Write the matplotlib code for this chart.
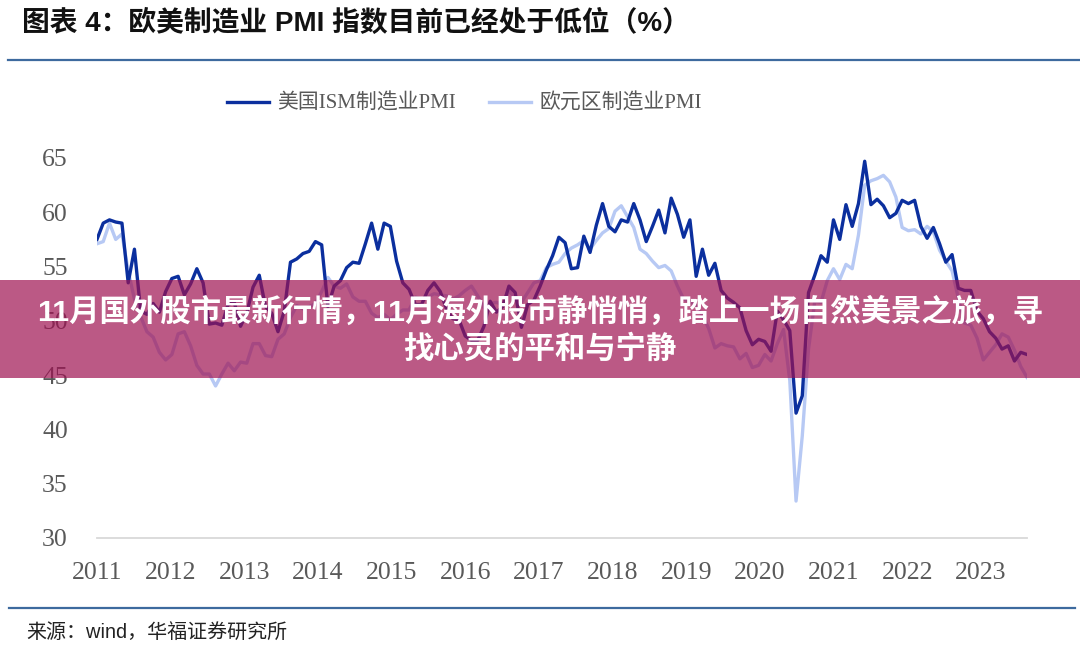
import numpy as np
import matplotlib
matplotlib.use("Agg")
import matplotlib.pyplot as plt
from matplotlib.lines import Line2D
from matplotlib.patches import Rectangle

# monthly data, Dec 2010 .. May 2023
ism_pmi = [57.5,
    59.0, 59.3, 59.1, 59.0, 53.5, 56.6, 50.9, 50.6, 51.6, 50.8, 52.7, 53.9,
    54.1, 52.4, 53.4, 54.8, 53.5, 49.7, 49.8, 49.6, 51.5, 51.7, 49.5, 50.7,
    53.1, 54.2, 51.3, 50.7, 49.0, 50.9, 55.4, 55.7, 56.2, 56.4, 57.3, 57.0,
    51.3, 53.2, 53.7, 54.9, 55.4, 55.3, 57.1, 59.0, 56.6, 59.0, 58.7, 55.5,
    53.5, 52.9, 51.5, 51.5, 52.8, 53.5, 52.7, 51.1, 50.2, 50.1, 48.6, 48.2,
    48.2, 49.5, 51.8, 50.8, 51.3, 53.2, 52.6, 49.4, 51.5, 51.9, 53.2, 54.7,
    56.0, 57.7, 57.2, 54.8, 54.9, 57.8, 56.3, 58.8, 60.8, 58.7, 58.2, 59.3,
    59.1, 60.8, 59.3, 57.3, 58.7, 60.2, 58.1, 61.3, 59.8, 57.7, 59.3, 54.1,
    56.6, 54.2, 55.3, 52.8, 52.1, 51.7, 51.2, 49.1, 47.8, 48.3, 48.1, 47.2,
    50.9, 50.1, 49.1, 41.5, 43.1, 52.6, 54.2, 56.0, 55.4, 59.3, 57.5, 60.7,
    58.7, 60.8, 64.7, 60.7, 61.2, 60.6, 59.5, 59.9, 61.1, 60.8, 61.1, 58.7,
    57.6, 58.6, 57.1, 55.4, 56.1, 53.0, 52.8, 52.8, 50.9, 50.2, 49.0, 48.4,
    47.4, 47.7, 46.3, 47.1, 46.9]

euro_pmi = [57.1,
    57.3, 59.0, 57.5, 58.0, 54.6, 52.0, 50.4, 49.0, 48.5, 47.1, 46.4, 46.9,
    48.8, 49.0, 47.7, 45.9, 45.1, 45.1, 44.0, 45.1, 46.1, 45.4, 46.2, 46.1,
    47.9, 47.9, 46.8, 46.7, 48.3, 48.8, 50.3, 51.4, 51.1, 51.3, 51.6, 52.7,
    54.0, 53.2, 53.0, 53.4, 52.2, 51.8, 51.8, 50.7, 50.3, 50.6, 50.1, 50.6,
    51.0, 51.0, 52.2, 52.0, 52.2, 52.5, 52.4, 52.3, 52.0, 52.3, 52.8, 53.2,
    52.3, 51.2, 51.6, 51.7, 51.5, 52.8, 52.0, 51.7, 52.6, 53.5, 53.7, 54.9,
    55.2, 55.4, 56.2, 56.7, 57.0, 57.4, 56.6, 57.4, 58.1, 58.5, 60.1, 60.6,
    59.6, 58.6, 56.6, 56.2, 55.5, 54.9, 55.1, 54.6, 53.2, 52.0, 51.8, 51.4,
    50.5, 49.3, 47.5, 47.9, 47.7, 47.6, 46.5, 47.0, 45.7, 45.9, 46.9, 46.3,
    47.9, 49.2, 44.5, 33.4, 39.4, 47.4, 51.8, 51.7, 53.7, 54.8, 53.8, 55.2,
    54.8, 57.9, 62.5, 62.9, 63.1, 63.4, 62.8, 61.4, 58.6, 58.3, 58.4, 58.0,
    58.7, 58.2, 56.5, 55.5, 54.6, 52.1, 49.8, 49.6, 48.4, 46.4, 47.1, 47.8,
    48.8, 48.5, 47.3, 45.8, 44.8]

years = [str(y) for y in range(2011, 2024)]
labels = ["美国ISM制造业PMI", "欧元区制造业PMI"]

serif = ["Liberation Serif", "Noto Sans CJK SC"]
sans = ["Liberation Sans", "Noto Sans CJK SC"]

fig = plt.figure(figsize=(10.8, 6.58), dpi=100)
ax = fig.add_axes([0.0898, 0.1824, 0.8611, 0.5775])

x = np.arange(len(ism_pmi))
ax.plot(x, euro_pmi, color="#b7c9f4", lw=2.4, solid_joinstyle="round", zorder=2)
ax.plot(x, ism_pmi, color="#0b2f9e", lw=2.4, solid_joinstyle="round", zorder=3)

ax.set_xlim(0, len(ism_pmi) - 1)
ax.set_ylim(30, 65)
ax.set_yticks(range(30, 66, 5))
ax.set_xticks(np.arange(len(years)) * 11.8)
ax.set_xticklabels(years)
for s in ["top", "right", "left"]:
    ax.spines[s].set_visible(False)
ax.spines["bottom"].set_color("#d9d9d9")
ax.spines["bottom"].set_linewidth(1.3)
ax.tick_params(axis="both", length=0, labelsize=18.5, labelcolor="#595959")
ax.tick_params(axis="y", pad=21)
ax.tick_params(axis="x", pad=17)
for t in ax.get_xticklabels() + ax.get_yticklabels():
    t.set_family(serif)

# legend
handles = [Line2D([], [], color="#0b2f9e", lw=2.4),
           Line2D([], [], color="#b7c9f4", lw=2.4)]
fig.legend(handles, labels, loc="center", bbox_to_anchor=(0.43, 1 - 104 / 658),
           ncol=2, frameon=False, handlelength=2.0, handletextpad=0.4,
           columnspacing=1.6, prop={"family": serif, "size": 15},
           labelcolor="#595959")

# title and rules
fig.text(0.02, 1 - 23 / 658, "图表 4：欧美制造业 PMI 指数目前已经处于低位（%）",
         family=sans, weight="bold", fontsize=20, va="center", ha="left", color="#111111")
fig.add_artist(Line2D([0.007, 1.0], [1 - 60 / 658] * 2, color="#3d6a9e", lw=1.6))
fig.add_artist(Line2D([0.008, 0.995], [1 - 608 / 658] * 2, color="#3d6a9e", lw=1.6))
fig.text(0.024, 1 - 632 / 658, "来源：wind，华福证券研究所", family=sans,
         fontsize=14.4, va="center", ha="left", color="#222222")

# overlay banner
fig.add_artist(Rectangle((0, 1 - 378 / 658), 1, 98 / 658, transform=fig.transFigure,
                         facecolor=(0.62, 0.07, 0.32), alpha=0.7, edgecolor="none", zorder=10))
fig.text(0.5, 1 - 330 / 658,
         "11月国外股市最新行情，11月海外股市静悄悄，踏上一场自然美景之旅，寻\n找心灵的平和与宁静",
         family=sans, weight="bold", fontsize=21.9, color="white", ha="center",
         va="center", linespacing=1.3, zorder=11)

fig.savefig("out.png", dpi=100)
